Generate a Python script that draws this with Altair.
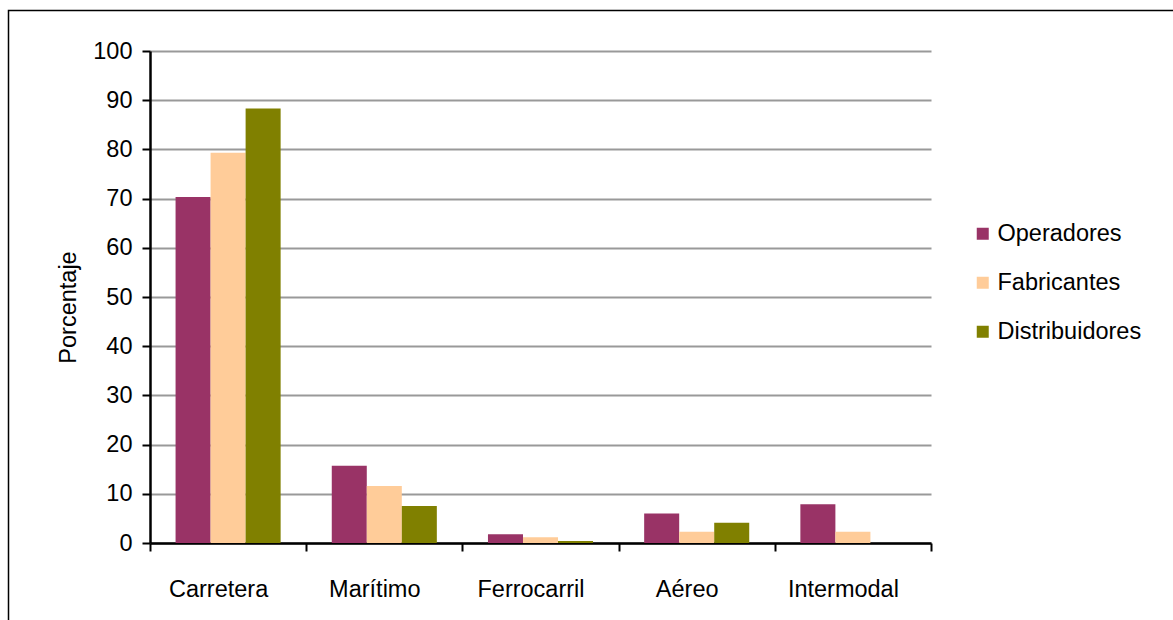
import altair as alt
import pandas as pd

# Transport mode share by respondent type
modos = ["Carretera", "Marítimo", "Ferrocarril", "Aéreo", "Intermodal"]
series = ["Operadores", "Fabricantes", "Distribuidores"]
operadores = [70.3, 15.7, 1.8, 6.0, 7.9]
fabricantes = [79.3, 11.6, 1.15, 2.3, 2.3]
distribuidores = [88.3, 7.5, 0.4, 4.1, 0.0]
colores = ["#993366", "#FFCC99", "#808000"]
y_ticks = list(range(0, 101, 10))

rows = []
for serie, valores in zip(series, [operadores, fabricantes, distribuidores]):
    for modo, v in zip(modos, valores):
        rows.append({"Modo": modo, "Serie": serie, "Porcentaje": v})
df = pd.DataFrame(rows)

FONT = "Liberation Sans"
FS = 23.5

bars = alt.Chart(df).mark_bar().encode(
    x=alt.X(
        "Modo:N",
        sort=modos,
        title=None,
        scale=alt.Scale(paddingInner=0, paddingOuter=0),
        axis=alt.Axis(
            labelAngle=0,
            labelFontSize=FS,
            labelFont=FONT,
            labelColor="black",
            labelPadding=26,
            labelOffset=-10,
            domainColor="black",
            domainWidth=2.5,
            tickColor="black",
            tickWidth=2,
            tickSize=8,
            tickBand="extent",
            grid=False,
        ),
    ),
    xOffset=alt.XOffset(
        "Serie:N",
        sort=series,
        scale=alt.Scale(paddingInner=0, paddingOuter=0.73),
    ),
    y=alt.Y(
        "Porcentaje:Q",
        title="Porcentaje",
        scale=alt.Scale(domain=[0, 100]),
        axis=alt.Axis(
            values=y_ticks,
            labelFontSize=FS,
            labelFont=FONT,
            labelColor="black",
            labelPadding=10,
            titleFont=FONT,
            titleFontSize=FS,
            titleFontWeight="normal",
            titleColor="black",
            titlePadding=12,
            titleY=256,
            domainColor="black",
            domainWidth=2.5,
            tickColor="black",
            tickWidth=2,
            tickSize=8,
            gridColor="#999999",
            gridWidth=2,
        ),
    ),
    color=alt.Color(
        "Serie:N",
        scale=alt.Scale(domain=series, range=colores),
        legend=alt.Legend(
            title=None,
            orient="none",
            legendX=821,
            legendY=171,
            symbolType="square",
            symbolSize=144,
            symbolStrokeWidth=0,
            labelFont=FONT,
            labelFontSize=FS,
            labelColor="black",
            labelOffset=3,
            rowPadding=24,
        ),
    ),
)

# Outer frame of the chart
frame = alt.Chart(pd.DataFrame({"a": [0]})).mark_rect(
    fill="transparent", stroke="black", strokeWidth=1.5
).encode(
    x=alt.value(-141.5),
    x2=alt.value(1040),
    y=alt.value(-40.5),
    y2=alt.value(600),
)

chart = alt.layer(bars, frame).properties(
    width=781,
    height=492,
    padding={"left": 150, "top": 51, "right": 242, "bottom": 77},
    autosize=alt.AutoSizeParams(type="none"),
    background="white",
).configure_view(stroke=None)

chart.save("out.html", embed_options={"renderer": "svg", "actions": False})
